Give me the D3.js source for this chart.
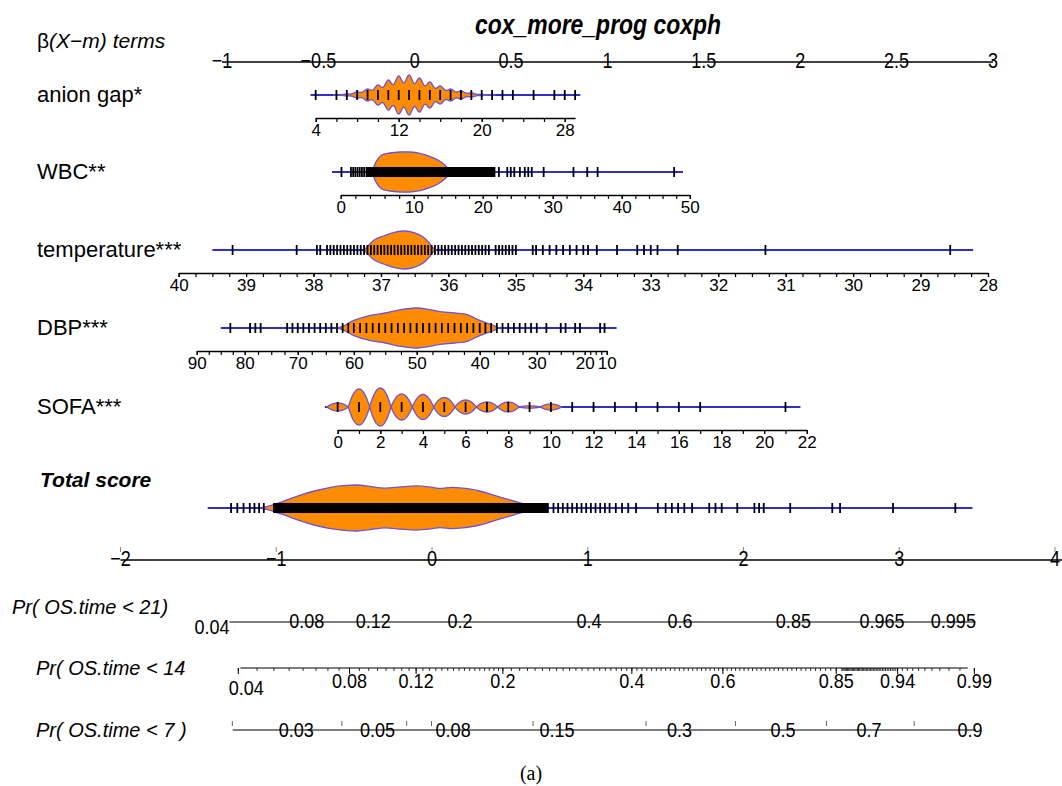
<!DOCTYPE html>
<html>
<head>
<meta charset="utf-8">
<script src="https://cdn.jsdelivr.net/npm/d3@7"></script>
<style>
body { margin: 0; background: #fff; }
svg text { font-family: "Liberation Sans", Arial, sans-serif; fill: #000; }
</style>
</head>
<body>
<div id="mount"></div>
<script>
// ---- data ----
var betaTicks = [-1, -0.5, 0, 0.5, 1, 1.5, 2, 2.5, 3];

// anion gap: axis value -> beta(X-m)
var anionVals = [4, 29];
var anionBeta = [-0.514, 0.832];
var anionTicks = [4, 12, 20, 28];
var anionMinor = [4, 28, 2];
var anionExtent = [3.5, 29.5];
var anionRug = [4, 6, 7, 8, 9, 10, 11, 12, 13, 14, 15, 16, 17, 18, 19, 20, 21, 22, 23, 25, 27, 28, 29];
var anionCounts = [[7, 1], [8, 3], [9, 6], [10, 10], [11, 15], [12, 19], [13, 20], [14, 17],
  [15, 13], [16, 9], [17, 6], [18, 4], [19, 2], [20, 0.6]];

// WBC
var wbcVals = [0, 10, 20, 30, 40, 50];
var wbcBeta = [-0.384, -0.005, 0.353, 0.716, 1.074, 1.427];
var wbcTicks = [0, 10, 20, 30, 40, 50];
var wbcMinor = [0, 50, 2];
var wbcExtent = [-1.2, 49];
var wbcRug = [0.1, 1.4, 1.7, 2.0, 2.3, 2.6, 2.9, 3.2, 22.3, 23.5, 24.0, 24.5, 25.3, 26.0, 26.5, 27.0,
  28.7, 33.0, 35.0, 36.5, 47.7];
var wbcBand = [3.4, 21.8];
var wbcDensity = [[4.2, 0], [4.4, 0.15], [4.9, 0.55], [5.6, 0.85], [6.7, 0.95], [8.1, 1.0], [9.5, 1.0],
  [10.9, 0.93], [12.3, 0.78], [13.5, 0.6], [14.5, 0.35], [15.2, 0.1], [15.5, 0]];

// temperature
var tempVals = [40, 28];
var tempBeta = [-1.225, 2.974];
var tempTicks = [40, 39, 38, 37, 36, 35, 34, 33, 32, 31, 30, 29, 28];
var tempMinor = [28, 40, 0.25];
var tempExtent = [39.5, 28.22];
var tempRug = [39.2, 38.25, 37.95, 37.9, 37.8, 37.75, 37.7, 37.65, 37.6, 37.55, 37.5,
  37.45, 37.4, 37.35, 37.3, 37.25, 37.2, 37.15, 37.1, 37.05, 37.0, 36.95, 36.9, 36.85, 36.8,
  36.75, 36.7, 36.65, 36.6, 36.55, 36.5, 36.45, 36.4, 36.35, 36.3, 36.25, 36.2, 36.15, 36.1,
  36.05, 36.0, 35.95, 35.9, 35.85, 35.8, 35.75, 35.7, 35.65, 35.6, 35.55, 35.5, 35.45, 35.4,
  35.3, 35.25, 35.2, 35.15, 35.1, 35.05, 35.0, 34.75, 34.7, 34.6, 34.5, 34.4, 34.3, 34.2,
  34.1, 34.0, 33.93, 33.8, 33.5, 33.2, 33.1, 33.0, 32.9, 32.6, 31.3, 28.56];
var tempDensity = [[37.25, 0], [37.2, 0.18], [37.1, 0.53], [36.95, 0.75], [36.8, 0.93], [36.65, 1.0],
  [36.5, 0.9], [36.38, 0.7], [36.28, 0.35], [36.22, 0.08], [36.18, 0]];

// DBP (non-linear term)
var dbpVals = [90, 80, 70, 60, 50, 40, 30, 20, 10];
var dbpBeta = [-1.131, -0.882, -0.607, -0.316, 0.010, 0.337, 0.633, 0.882, 0.996];
var dbpTicks = [90, 80, 70, 60, 50, 40, 30, 20, 10];
var dbpMinor = [10, 90, 2.5];
var dbpExtent = [85, 5.5];
var dbpRug = [83, 79, 78, 77, 72, 71, 70, 69, 68, 67, 66, 65, 64, 63, 62, 61, 60, 59, 58, 57, 56, 55,
  54, 53, 52, 51, 50, 49, 48, 47, 46, 45, 44, 43, 42, 41, 40, 39, 38, 37, 36, 35, 34, 33, 32, 31,
  30, 28, 25, 24, 22, 21, 13, 11];
var dbpDensity = [[63, 0], [62, 0.08], [60, 0.38], [57.5, 0.62], [55, 0.75], [52.5, 0.92], [50, 1.0],
  [48, 0.92], [46.5, 0.83], [44, 0.75], [42, 0.67], [40, 0.38], [38, 0.17], [37, 0.05], [36.5, 0]];

// SOFA
var sofaVals = [0, 22];
var sofaBeta = [-0.400, 2.034];
var sofaTicks = [0, 2, 4, 6, 8, 10, 12, 14, 16, 18, 20, 22];
var sofaMinor = [0, 22, 1];
var sofaExtent = [-0.6, 21.7];
var sofaRug = [0, 1, 2, 3, 4, 5, 6, 7, 8, 9, 10, 11, 12, 13, 14, 15, 16, 17, 21];
var sofaCounts = [[0, 4], [1, 18], [2, 19], [3, 13], [4, 12.5], [5, 9.5], [6, 7], [7, 5], [8, 5],
  [9, 1.2], [10, 3]];

// total score
var totalTicks = [-2, -1, 0, 1, 2, 3, 4];
var totalExtent = [-1.44, 3.47];
var totalRug = [-1.29, -1.25, -1.21, -1.17, -1.14, -1.11, -1.08, 0.78, 0.81, 0.84, 0.87, 0.9, 0.93,
  0.96, 0.99, 1.02, 1.05, 1.08, 1.11, 1.14, 1.18, 1.22, 1.26, 1.31, 1.45, 1.5, 1.54, 1.58, 1.62,
  1.67, 1.78, 1.82, 1.86, 1.96, 2.07, 2.1, 2.13, 2.3, 2.57, 2.62, 2.96, 3.36];
var totalBand = [-1.02, 0.75];
var totalDensity = [[-1.1, 0], [-1.05, 0.08], [-0.95, 0.3], [-0.85, 0.55], [-0.75, 0.75], [-0.65, 0.9],
  [-0.55, 0.98], [-0.48, 1.0], [-0.4, 0.94], [-0.3, 0.86], [-0.2, 0.92], [-0.1, 0.96], [0, 0.9],
  [0.05, 0.85], [0.13, 0.9], [0.2, 0.86], [0.3, 0.75], [0.4, 0.55], [0.5, 0.35], [0.6, 0.16],
  [0.7, 0.04], [0.75, 0]];

// probability axes: cloglog(p) = score + offset
var pr21Ticks = [0.04, 0.08, 0.12, 0.2, 0.4, 0.6, 0.85, 0.965, 0.995];
var pr14Ticks = [0.04, 0.08, 0.12, 0.2, 0.4, 0.6, 0.85, 0.94, 0.99];
var pr7Ticks = [0.03, 0.05, 0.08, 0.15, 0.3, 0.5, 0.7, 0.9];
var pr7Marks = [0.02, 0.04, 0.06, 0.07, 0.13, 0.25, 0.4, 0.6, 0.8];
var prOffsets = [-1.68, -1.955, -2.62];
var prLineExtent = [[-1.30, 3.49], [-1.23, 3.44], [-1.28, 3.49]];

// ---- drawing ----
var W = 1062, H = 786;
var ORANGE = '#ff8c00', BLUE = '#3030c4', OUTLINE = '#6b55d6';

var svg = d3.select('#mount').append('svg')
  .attr('width', W)
  .attr('height', H);

var xBeta = d3.scaleLinear().domain([-1, 3]).range([222, 993]);
var xTotal = d3.scaleLinear().domain([-2, 4]).range([120.5, 1055]);
var fmt = d3.format('');

function ntext (g, x, y, s, size, anchor, sx) {
  return g.append('text')
    .attr('transform', 'translate(' + x + ',' + y + ') scale(' + sx + ',1)')
    .attr('text-anchor', anchor)
    .attr('font-size', size)
    .text(s);
}

// density from counts at discrete values; 'epa' gives lens-shaped blobs
function kde (counts, bw, kernel) {
  var reach = kernel === 'epa' ? bw : 4 * bw;
  var lo = d3.min(counts, function (d) { return d[0]; }) - reach;
  var hi = d3.max(counts, function (d) { return d[0]; }) + reach;
  return d3.range(lo, hi + 1e-9, 0.01).map(function (v) {
    var s = d3.sum(counts, function (c) {
      var z = (v - c[0]) / bw;
      if (kernel === 'epa') return Math.abs(z) < 1 ? c[1] * (1 - z * z) : 0;
      return c[1] * Math.exp(-0.5 * z * z);
    });
    return [v, s];
  });
}

// title and header
ntext(svg, 598, 34, 'cox_more_prog coxph', 28, 'middle', 0.82)
  .attr('font-weight', 'bold').attr('font-style', 'italic');

var hdr = svg.append('text').attr('x', 37).attr('y', 48).attr('font-size', 21);
hdr.append('tspan').text('β');
hdr.append('tspan').attr('font-style', 'italic').text('(X−m) terms');

// top beta axis
var gTop = svg.append('g');
gTop.append('line')
  .attr('x1', xBeta(-1)).attr('x2', xBeta(3))
  .attr('y1', 62).attr('y2', 62)
  .attr('stroke', '#000').attr('stroke-width', 1.3);
betaTicks.forEach(function (t) {
  ntext(gTop, xBeta(t), 68, fmt(t), 22, 'middle', 0.82);
});

var rows = [
  { name: 'anion gap*', y: 95, vals: anionVals, betas: anionBeta, ticks: anionTicks, minor: anionMinor,
    extent: anionExtent, rug: anionRug, counts: anionCounts, bw: 0.33, half: 20 },
  { name: 'WBC**', y: 172, vals: wbcVals, betas: wbcBeta, ticks: wbcTicks, minor: wbcMinor,
    extent: wbcExtent, rug: wbcRug, band: wbcBand, profile: wbcDensity, half: 20 },
  { name: 'temperature***', y: 250, vals: tempVals, betas: tempBeta, ticks: tempTicks, minor: tempMinor,
    extent: tempExtent, rug: tempRug, profile: tempDensity, half: 19 },
  { name: 'DBP***', y: 328, vals: dbpVals, betas: dbpBeta, ticks: dbpTicks, minor: dbpMinor,
    extent: dbpExtent, rug: dbpRug, profile: dbpDensity, half: 20 },
  { name: 'SOFA***', y: 407, vals: sofaVals, betas: sofaBeta, ticks: sofaTicks, minor: sofaMinor,
    extent: sofaExtent, rug: sofaRug, counts: sofaCounts, bw: 0.5, kernel: 'epa', half: 19 }
];

function drawMarks (g, sx, y, r) {
  g.append('line')
    .attr('x1', sx(r.extent[0])).attr('x2', sx(r.extent[1]))
    .attr('y1', y).attr('y2', y)
    .attr('stroke', BLUE).attr('stroke-width', 2);

  var prof = r.counts ? kde(r.counts, r.bw, r.kernel) : r.profile;
  var hs = d3.scaleLinear()
    .domain([0, d3.max(prof, function (d) { return d[1]; })])
    .range([0, r.half]);
  var pts = prof.map(function (d) { return [sx(d[0]), hs(d[1])]; })
    .sort(function (a, b) { return a[0] - b[0]; });
  var area = d3.area()
    .x(function (d) { return d[0]; })
    .y0(function (d) { return y - d[1]; })
    .y1(function (d) { return y + d[1]; })
    .curve(r.counts ? d3.curveLinear : d3.curveCatmullRom.alpha(0.5));
  g.append('path').datum(pts)
    .attr('d', area)
    .attr('fill', ORANGE)
    .attr('stroke', OUTLINE).attr('stroke-width', 1.3);

  if (r.band) {
    var bx = [sx(r.band[0]), sx(r.band[1])].sort(d3.ascending);
    g.append('rect')
      .attr('x', bx[0]).attr('width', bx[1] - bx[0])
      .attr('y', y - 5).attr('height', 10)
      .attr('fill', '#000');
  }
  g.selectAll('line.rug').data(r.rug).enter().append('line')
    .attr('class', 'rug')
    .attr('x1', function (d) { return sx(d); })
    .attr('x2', function (d) { return sx(d); })
    .attr('y1', y - 5).attr('y2', y + 5)
    .attr('stroke', '#000').attr('stroke-width', 1.8);
}

rows.forEach(function (r) {
  var sx = d3.scaleLinear().domain(r.vals).range(r.betas.map(xBeta));
  var g = svg.append('g');
  g.append('text').attr('x', 37).attr('y', r.y + 7).attr('font-size', 22).text(r.name);
  drawMarks(g, sx, r.y, r);

  var ay = r.y + 23;
  var minor = d3.range(r.minor[0], r.minor[1] + 1e-6, r.minor[2]);
  var gMinor = g.append('g').attr('transform', 'translate(0,' + ay + ')')
    .call(d3.axisBottom(sx).tickValues(minor).tickFormat('').tickSize(4).tickSizeOuter(0));
  var gMajor = g.append('g').attr('transform', 'translate(0,' + ay + ')')
    .call(d3.axisBottom(sx).tickValues(r.ticks).tickFormat(fmt).tickSize(4).tickSizeOuter(0).tickPadding(2));
  gMajor.select('.domain').remove();
  gMinor.select('.domain').attr('stroke-width', 1.6);
  [gMinor, gMajor].forEach(function (a) {
    a.attr('font-family', null).attr('font-size', 17);
    a.selectAll('.tick line').attr('stroke-width', 1.2);
  });
});

// total score row
var gTot = svg.append('g');
gTot.append('text').attr('x', 40).attr('y', 487).attr('font-size', 21)
  .attr('font-weight', 'bold').attr('font-style', 'italic').text('Total score');
drawMarks(gTot, xTotal, 508, { extent: totalExtent, rug: totalRug, band: totalBand,
  profile: totalDensity, half: 23 });

gTot.append('line')
  .attr('x1', xTotal(-2)).attr('x2', xTotal(4.05))
  .attr('y1', 560).attr('y2', 560)
  .attr('stroke', '#000').attr('stroke-width', 1.3);
totalTicks.forEach(function (t) {
  gTot.append('line')
    .attr('x1', xTotal(t)).attr('x2', xTotal(t))
    .attr('y1', 547).attr('y2', 552)
    .attr('stroke', '#888').attr('stroke-width', 1);
  ntext(gTot, xTotal(t), 566, fmt(t), 22, 'middle', 0.82);
});

// probability axes
function cloglog (p) { return Math.log(-Math.log(1 - p)); }

function px (p, k) { return xTotal(cloglog(p) - prOffsets[k]); }

var gPr = svg.append('g');
var prLabels = ['Pr( OS.time < 21)', 'Pr( OS.time < 14', 'Pr( OS.time < 7 )'];
var prLabelX = [12, 36, 36];
var prY = [622, 668, 730];

prLabels.forEach(function (s, k) {
  gPr.append('text')
    .attr('x', prLabelX[k]).attr('y', prY[k] - 8 + (k === 0 ? 0 : 15))
    .attr('font-size', 20).attr('font-style', 'italic')
    .attr('xml:space', 'preserve')
    .text(s);
  gPr.append('line')
    .attr('x1', xTotal(prLineExtent[k][0])).attr('x2', xTotal(prLineExtent[k][1]))
    .attr('y1', prY[k]).attr('y2', prY[k])
    .attr('stroke', '#000').attr('stroke-width', 1.2);
});

// Pr < 21 : labels sit on the line
pr21Ticks.forEach(function (p, i) {
  var x = i === 0 ? xTotal(prLineExtent[0][0]) : px(p, 0);
  ntext(gPr, x, prY[0] + (i === 0 ? 12 : 6), fmt(p), 21, i === 0 ? 'end' : 'middle', 0.86);
});

// Pr < 14 : minor ticks hanging below, labels underneath
var pr14Minor = [].concat(
  d3.range(0.04, 0.2, 0.005),
  d3.range(0.2, 0.86, 0.01),
  d3.range(0.86, 0.94, 0.002),
  d3.range(0.94, 0.9901, 0.005));
gPr.selectAll('line.m14').data(pr14Minor).enter().append('line')
  .attr('class', 'm14')
  .attr('x1', function (p) { return px(p, 1); })
  .attr('x2', function (p) { return px(p, 1); })
  .attr('y1', prY[1]).attr('y2', prY[1] + 3)
  .attr('stroke', '#000').attr('stroke-width', 0.8);
gPr.selectAll('line.t14').data(pr14Ticks).enter().append('line')
  .attr('class', 't14')
  .attr('x1', function (p) { return px(p, 1); })
  .attr('x2', function (p) { return px(p, 1); })
  .attr('y1', prY[1]).attr('y2', prY[1] + 6)
  .attr('stroke', '#000').attr('stroke-width', 1);
pr14Ticks.forEach(function (p, i) {
  ntext(gPr, px(p, 1) + (i === 0 ? 8 : 0), prY[1] + (i === 0 ? 27 : 20), fmt(p), 21, 'middle', 0.86);
});

// Pr < 7 : small marks above, labels on the line
gPr.selectAll('line.m7').data(pr7Marks).enter().append('line')
  .attr('class', 'm7')
  .attr('x1', function (p) { return px(p, 2); })
  .attr('x2', function (p) { return px(p, 2); })
  .attr('y1', prY[2] - 9).attr('y2', prY[2] - 4)
  .attr('stroke', '#666').attr('stroke-width', 1);
pr7Ticks.forEach(function (p) {
  ntext(gPr, px(p, 2), prY[2] + 7, fmt(p), 21, 'middle', 0.86);
});

// caption
svg.append('text')
  .attr('x', W / 2).attr('y', 780)
  .attr('text-anchor', 'middle')
  .attr('font-size', 20)
  .style('font-family', '"Liberation Serif", "Times New Roman", serif')
  .text('(a)');
</script>
</body>
</html>
